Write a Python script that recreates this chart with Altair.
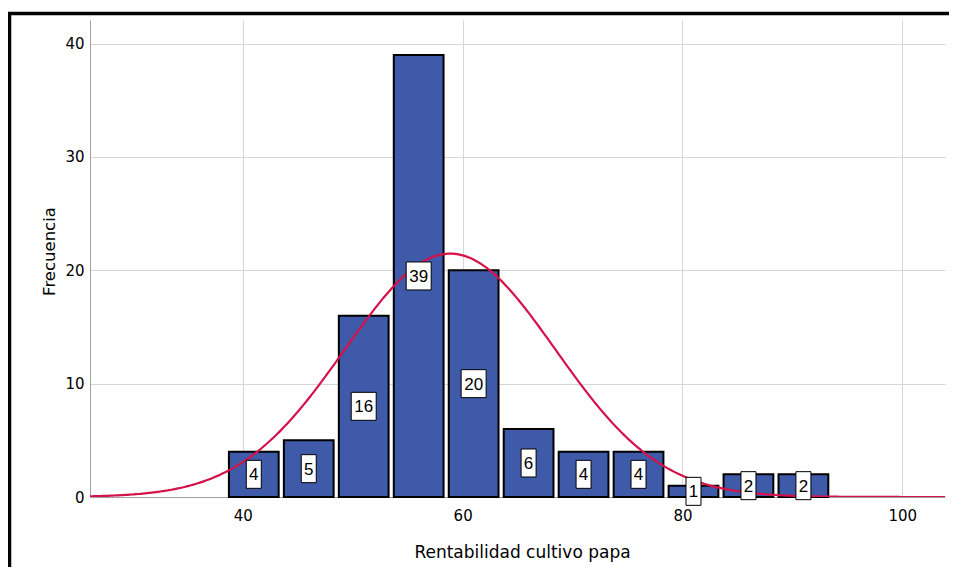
import altair as alt
import pandas as pd

# ---- data ----
bin_start = [38.5, 43.5, 48.5, 53.5, 58.5, 63.5, 68.5, 73.5, 78.5, 83.5, 88.5]
counts = [4, 5, 16, 39, 20, 6, 4, 4, 1, 2, 2]
BIN_WIDTH = 5
N_TOTAL = 103
MEAN = 58.86
SD = 9.57
x_ticks = [40, 60, 80, 100]
y_ticks = [0, 10, 20, 30, 40]
X_DOMAIN = [26.1, 103.88]
Y_DOMAIN = [0, 42.08]

bars = pd.DataFrame({
    "start": bin_start,
    "end": [s + BIN_WIDTH for s in bin_start],
    "count": counts,
})
bars["mid"] = bars["start"] + BIN_WIDTH / 2
bars["half"] = bars["count"] / 2
bars["label"] = bars["count"].astype(str)
bars["ndig"] = bars["label"].str.len().astype(str)

BAR_FILL = "#3F5AA8"
CURVE = "#D4134A"
GRID = "#D6D6D6"
AXIS = "#A0A0A0"

xscale = alt.Scale(domain=X_DOMAIN, nice=False, zero=False)
yscale = alt.Scale(domain=Y_DOMAIN, nice=False)

xaxis = alt.Axis(
    values=x_ticks, grid=True, gridColor=GRID, domainColor=AXIS, ticks=False,
    labelPadding=11, labelFont="DejaVu Sans", labelFontSize=15, labelColor="black",
    title="Rentabilidad cultivo papa", titleFont="DejaVu Sans", titleFontSize=17,
    titleFontWeight="normal", titleColor="black",
    titleX=432, titleY=60, titleBaseline="alphabetic", titleAlign="center",
)
yaxis = alt.Axis(
    values=y_ticks, grid=True, gridColor=GRID, domainColor=AXIS, ticks=False,
    labelPadding=6, labelFont="DejaVu Sans", labelFontSize=15, labelColor="black",
    title="Frecuencia", titleFont="DejaVu Sans", titleFontSize=16.5,
    titleFontWeight="normal", titleColor="black",
    titleX=-36, titleY=231, titleBaseline="alphabetic", titleAlign="center", titleAngle=-90,
)

base = alt.Chart(bars)

bar_layer = base.mark_bar(
    fill=BAR_FILL, stroke="black", strokeWidth=2, xOffset=2.6, x2Offset=-2.6
).encode(
    x=alt.X("start:Q", scale=xscale, axis=xaxis),
    x2="end:Q",
    y=alt.Y("count:Q", scale=yscale, axis=yaxis),
    y2=alt.datum(0),
)

curve = alt.Chart(alt.sequence(X_DOMAIN[0], X_DOMAIN[1] + 0.1, 0.2, as_="x")).transform_calculate(
    y=f"{N_TOTAL * BIN_WIDTH}*exp(-pow(datum.x-{MEAN},2)/(2*{SD}*{SD}))/({SD}*sqrt(2*PI))"
).mark_line(color=CURVE, strokeWidth=2.2, clip=True).encode(
    x=alt.X("x:Q", scale=xscale),
    y=alt.Y("y:Q", scale=yscale),
)

box_paths = ["M-7.5,-14H7.5V14H-7.5Z", "M-12.5,-14H12.5V14H-12.5Z"]
boxes = base.mark_point(
    filled=True, fill="white", stroke="black", strokeWidth=1, size=4, opacity=1
).encode(
    x=alt.X("mid:Q", scale=xscale),
    y=alt.Y("half:Q", scale=yscale),
    shape=alt.Shape("ndig:N", scale=alt.Scale(domain=["1", "2"], range=box_paths), legend=None),
)

texts = base.mark_text(
    font="Liberation Sans", fontSize=17, color="black", baseline="middle", align="center", dy=1
).encode(
    x=alt.X("mid:Q", scale=xscale),
    y=alt.Y("half:Q", scale=yscale),
    text="label:N",
)

frame = alt.Chart(pd.DataFrame({"a": [0]})).mark_rect(
    fillOpacity=0, stroke="black", strokeWidth=3.5, clip=False
).encode(
    x=alt.value(-80.5), x2=alt.value(1000), y=alt.value(-6.5), y2=alt.value(700)
)

chart = alt.layer(bar_layer, curve, boxes, texts, frame).properties(
    width=855, height=477,
    autosize=alt.AutoSizeParams(type="none"),
    padding={"left": 82, "top": 12, "right": 4, "bottom": 70},
).configure_view(stroke=None)

chart.save("out.html", embed_options={"renderer": "svg", "actions": False})
